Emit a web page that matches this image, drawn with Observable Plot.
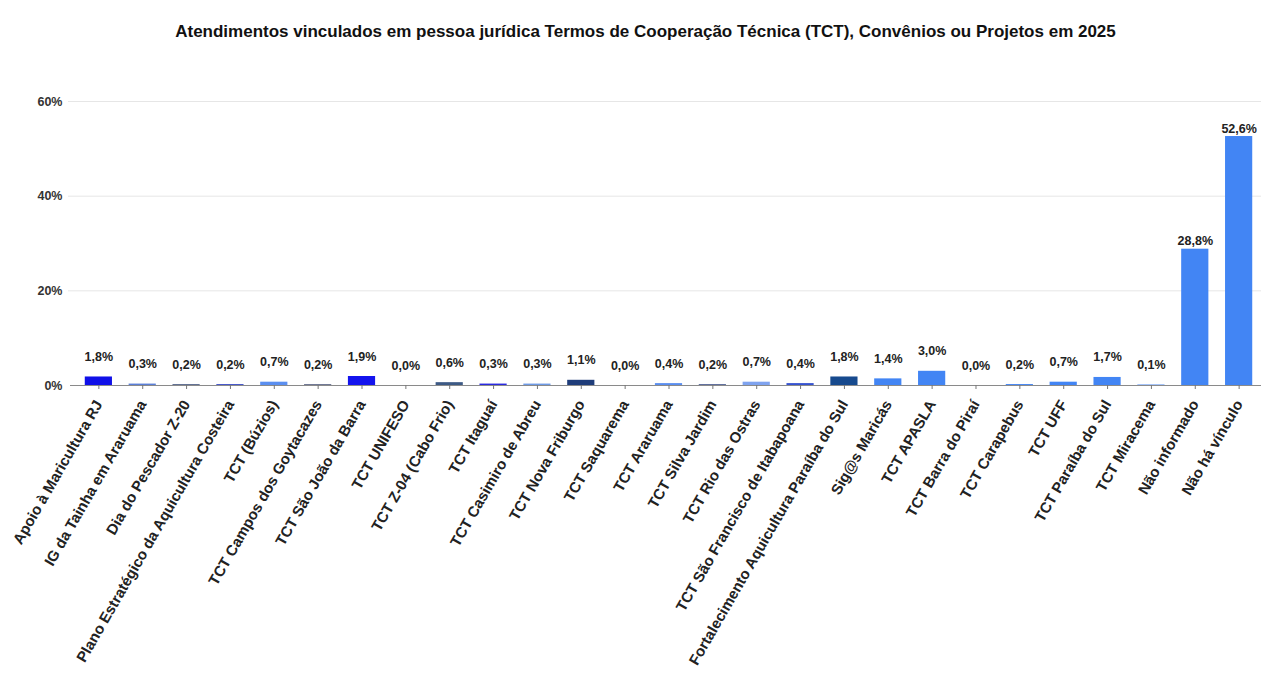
<!DOCTYPE html>
<html>
<head>
<meta charset="utf-8">
<script src="https://cdn.jsdelivr.net/npm/d3@7"></script>
<script src="https://cdn.jsdelivr.net/npm/@observablehq/plot@0.6"></script>
<style>
  html, body { margin: 0; padding: 0; background: #fff; }
  body { width: 1266px; height: 678px; overflow: hidden; font-family: "Liberation Sans", Arial, sans-serif; }
  #title { height: 56px; box-sizing: border-box; padding-top: 22px; padding-left: 25px; line-height: 20px; text-align: center; font-size: 17px; font-weight: bold; color: #111; white-space: nowrap; }
</style>
</head>
<body>
<div id="title">Atendimentos vinculados em pessoa jurídica Termos de Cooperação Técnica (TCT), Convênios ou Projetos em 2025</div>
<div id="chart"></div>
<script>
const categories = [
  "Apoio à Maricultura RJ",
  "IG da Tainha em Araruama",
  "Dia do Pescador Z-20",
  "Plano Estratégico da Aquicultura Costeira",
  "TCT (Búzios)",
  "TCT Campos dos Goytacazes",
  "TCT São João da Barra",
  "TCT UNIFESO",
  "TCT Z-04 (Cabo Frio)",
  "TCT Itaguaí",
  "TCT Casimiro de Abreu",
  "TCT Nova Friburgo",
  "TCT Saquarema",
  "TCT Araruama",
  "TCT Silva Jardim",
  "TCT Rio das Ostras",
  "TCT São Francisco de Itabapoana",
  "Fortalecimento Aquicultura Paraíba do Sul",
  "Sig@s Maricás",
  "TCT APASLA",
  "TCT Barra do Piraí",
  "TCT Carapebus",
  "TCT UFF",
  "TCT Paraíba do Sul",
  "TCT Miracema",
  "Não informado",
  "Não há vínculo"
];
const values = [1.8, 0.3, 0.2, 0.2, 0.7, 0.2, 1.9, 0.0, 0.6, 0.3, 0.3, 1.1, 0.0, 0.4, 0.2, 0.7, 0.4, 1.8, 1.4, 3.0, 0.0, 0.2, 0.7, 1.7, 0.1, 28.8, 52.6];
const barColors = [
  "#1010e8", "#5b7fd8", "#5c6b8f", "#3f51c8", "#5b8ff0", "#6a7390", "#1414ee", "#6a7390",
  "#3d5a85", "#2a2ae0", "#6f9be6", "#1f3d7a", "#5a70c0", "#5a8ef0", "#5a6a9a", "#7fa3ef",
  "#3552d0", "#174a8e", "#4285f4", "#4285f4", "#4285f4", "#4285f4", "#4285f4", "#4285f4",
  "#4285f4", "#4285f4", "#4285f4"
];
const yTicks = [0, 20, 40, 60];

const data = categories.map((c, i) => ({cat: c, v: values[i], color: barColors[i]}));
const fmt = v => v.toFixed(1).replace(".", ",") + "%";

const plot = Plot.plot({
  width: 1266,
  height: 622,
  marginTop: 45,
  marginBottom: 293,
  marginLeft: 76,
  marginRight: 5,
  style: {fontFamily: "'Liberation Sans', Arial, sans-serif", background: "#fff", overflow: "visible"},
  x: {domain: categories, paddingInner: 0.38, paddingOuter: 0.2, round: false, label: null},
  y: {domain: [0, 60], label: null},
  marks: [
    Plot.ruleY(yTicks.filter(d => d > 0), {stroke: "#e6e6e6", strokeWidth: 1, insetLeft: -8}),
    Plot.barY(data, {x: "cat", y: "v", fill: "color"}),
    Plot.ruleY([0], {stroke: "#8a8a8a", strokeWidth: 1.2, insetLeft: -6}),
    Plot.axisY({ticks: yTicks, tickFormat: d => d + "%", tickSize: 0, tickPadding: 14, fontSize: 12.5, fontWeight: "bold", fill: "#333"}),
    Plot.axisX({tickSize: 4, tickPadding: 12, tickRotate: -60, fontSize: 15, fontWeight: "bold", fill: "#222", stroke: "#777"}),
    Plot.text(data.filter(d => d.v < 10), {x: "cat", y: "v", text: d => fmt(d.v), dy: -16, lineAnchor: "bottom", fontSize: 12.5, fontWeight: "bold", fill: "#222"}),
    Plot.text(data.filter(d => d.v >= 10), {x: "cat", y: "v", text: d => fmt(d.v), dy: -4, lineAnchor: "bottom", fontSize: 12.5, fontWeight: "bold", fill: "#222"})
  ]
});
document.getElementById("chart").appendChild(plot);
</script>
</body>
</html>
